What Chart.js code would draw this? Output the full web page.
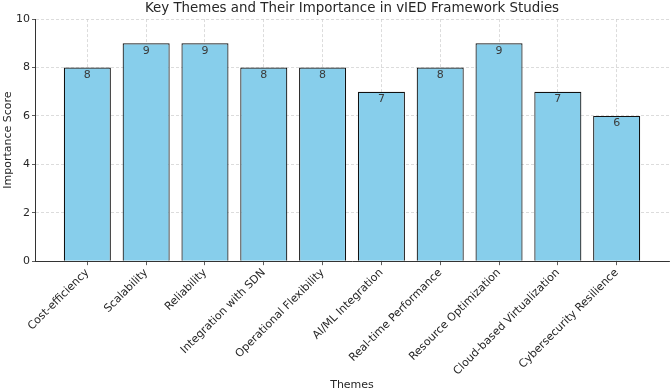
<!DOCTYPE html>
<html>
<head>
<meta charset="utf-8">
<script src="https://cdn.jsdelivr.net/npm/chart.js@4.4.0/dist/chart.umd.min.js"></script>
<style>
  html, body { margin: 0; padding: 0; background: #fff; }
  #box { width: 671px; height: 392px; }
</style>
</head>
<body>
<div id="box"><canvas id="myChart"></canvas></div>
<script>
const themes = ['Cost-efficiency', 'Scalability', 'Reliability', 'Integration with SDN',
  'Operational Flexibility', 'AI/ML Integration', 'Real-time Performance',
  'Resource Optimization', 'Cloud-based Virtualization', 'Cybersecurity Resilience'];
const scores = [8, 9, 9, 8, 8, 7, 8, 9, 7, 6];
const yTicks = [0, 2, 4, 6, 8, 10];

Chart.defaults.font.family = 'DejaVu Sans';
Chart.defaults.color = '#262626';

// value labels just below each bar top
const barLabels = {
  id: 'barLabels',
  afterDatasetsDraw(chart) {
    const ctx = chart.ctx;
    const meta = chart.getDatasetMeta(0);
    ctx.save();
    ctx.font = '11px DejaVu Sans';
    ctx.fillStyle = '#3a3a3a';
    ctx.textAlign = 'center';
    ctx.textBaseline = 'top';
    meta.data.forEach((bar, i) => {
      ctx.fillText(String(scores[i]), bar.x, bar.y + 2);
    });
    ctx.restore();
  }
};

const gridColor = 'rgba(200,200,200,0.8)';

const ctx = document.getElementById('myChart');
const myChart = new Chart(ctx, {
  type: 'bar',
  data: {
    datasets: [{
      data: scores.map((s, i) => ({ x: i, y: s })),
      backgroundColor: '#87CEEB',
      borderColor: '#111',
      borderWidth: 1.2,
      barPercentage: 0.8,
      categoryPercentage: 1.0
    }]
  },
  options: {
    responsive: true,
    maintainAspectRatio: false,
    animation: false,
    layout: { padding: { left: 0, right: 2, top: 0, bottom: 0 } },
    scales: {
      x: {
        type: 'linear',
        z: 1,
        min: -0.89,
        max: 9.89,
        offset: false,
        afterBuildTicks: (axis) => { axis.ticks = themes.map((t, i) => ({ value: i })); },
        grid: {
          offset: false,
          color: gridColor,
          lineWidth: 0.8,
          drawTicks: true,
          tickLength: 4,
          tickColor: '#333'
        },
        border: { display: true, color: '#333', width: 1, dash: [3, 2] },
        ticks: {
          autoSkip: false,
          maxRotation: 45,
          minRotation: 45,
          padding: 1,
          font: { size: 11 },
          color: '#262626',
          callback: (v) => themes[v]
        },
        title: {
          display: true,
          text: 'Themes',
          font: { size: 11 },
          color: '#262626',
          padding: { top: 0, bottom: 0 }
        }
      },
      y: {
        z: 1,
        min: 0,
        max: 10,
        afterBuildTicks: (axis) => { axis.ticks = yTicks.map(v => ({ value: v })); },
        afterFit: (axis) => { axis.width = 35; },
        grid: {
          color: gridColor,
          lineWidth: 0.8,
          tickLength: 3,
          tickColor: '#333'
        },
        border: { display: true, color: '#333', width: 1, dash: [3, 2] },
        ticks: {
          padding: 2,
          font: { size: 11 },
          color: '#262626'
        },
        title: {
          display: true,
          text: 'Importance Score',
          font: { size: 11 },
          color: '#262626',
          padding: { top: 2, bottom: 1 }
        }
      }
    },
    plugins: {
      title: {
        display: true,
        fullSize: false,
        text: 'Key Themes and Their Importance in vIED Framework Studies',
        font: { size: 13.4, weight: 'normal' },
        color: '#262626',
        padding: { top: 0, bottom: 3 }
      },
      legend: { display: false },
      tooltip: { enabled: false }
    }
  },
  plugins: [barLabels]
});
</script>
</body>
</html>
